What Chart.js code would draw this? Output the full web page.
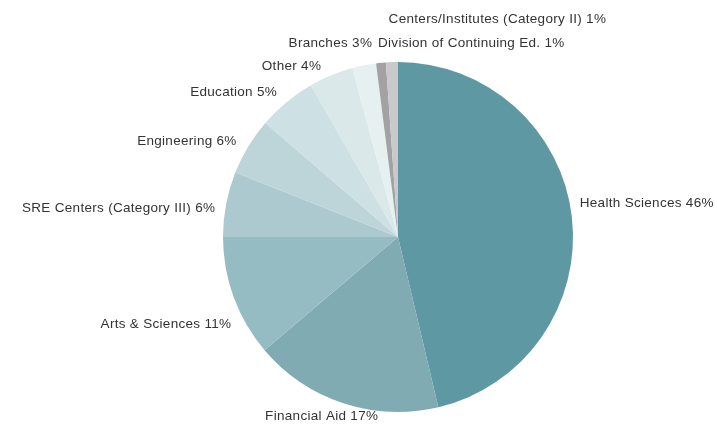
<!DOCTYPE html>
<html>
<head>
<meta charset="utf-8">
<script src="https://cdn.jsdelivr.net/npm/chart.js@4/dist/chart.umd.min.js"></script>
<style>
  html, body { margin: 0; padding: 0; background: #ffffff; }
  #wrap { width: 717px; height: 430px; position: relative; }
</style>
</head>
<body>
<div id="wrap"><canvas id="c" width="717" height="430"></canvas></div>
<script>
// ---- Data ----
const categories = [
  "Health Sciences",
  "Financial Aid",
  "Arts & Sciences",
  "SRE Centers (Category III)",
  "Engineering",
  "Education",
  "Other",
  "Branches",
  "Division of Continuing Ed.",
  "Centers/Institutes (Category II)"
];
// slice sizes (percent)
const sliceValues = [46.3, 17.5, 11.2, 6.0, 5.3, 5.4, 4.1, 2.2, 0.9, 1.1];
// percent labels as printed
const labelPercents = ["46%", "17%", "11%", "6%", "6%", "5%", "4%", "3%", "1%", "1%"];
const sliceColors = [
  "#5e98a2", "#80abb3", "#95bcc3", "#abc9ce", "#bdd5d9",
  "#cde0e3", "#dbe8ea", "#e7f0f1", "#a2a2a2", "#c9c9c9"
];
// label layout tweaks: [dx, dy, align]
const labelNudges = [
  [-2, -12, "left"],
  [38, 4, "right"],
  [7, 24, "right"],
  [-1, 6, "right"],
  [-3, 0, "right"],
  [-3, -2, "right"],
  [-6, 0, "right"],
  [10, -12, "right"],
  [-2, -10, "left"],
  [-3, -33, "left"]
];

const labelPlugin = {
  id: "sliceLabels",
  afterDatasetsDraw(chart) {
    const ctx = chart.ctx;
    const meta = chart.getDatasetMeta(0);
    ctx.save();
    ctx.font = "13.5px 'Liberation Sans', Arial, sans-serif";
    if ("letterSpacing" in ctx) ctx.letterSpacing = "0.3px";
    ctx.fillStyle = "#333333";
    ctx.textBaseline = "middle";
    meta.data.forEach((arc, i) => {
      const p = arc.getProps(["x", "y", "startAngle", "endAngle", "outerRadius"], true);
      const mid = (p.startAngle + p.endAngle) / 2;
      const r = p.outerRadius + 10;
      const ax = p.x + Math.cos(mid) * r;
      const ay = p.y + Math.sin(mid) * r;
      const n = labelNudges[i];
      ctx.textAlign = n[2];
      ctx.fillText(categories[i] + " " + labelPercents[i], ax + n[0], ay + n[1]);
    });
    ctx.restore();
  }
};

new Chart(document.getElementById("c"), {
  type: "pie",
  data: {
    labels: categories,
    datasets: [{
      data: sliceValues,
      backgroundColor: sliceColors,
      borderWidth: 0
    }]
  },
  options: {
    responsive: false,
    animation: false,
    layout: { padding: { left: 223, right: 144, top: 62, bottom: 18 } },
    plugins: {
      legend: { display: false },
      tooltip: { enabled: false }
    }
  },
  plugins: [labelPlugin]
});
</script>
</body>
</html>
